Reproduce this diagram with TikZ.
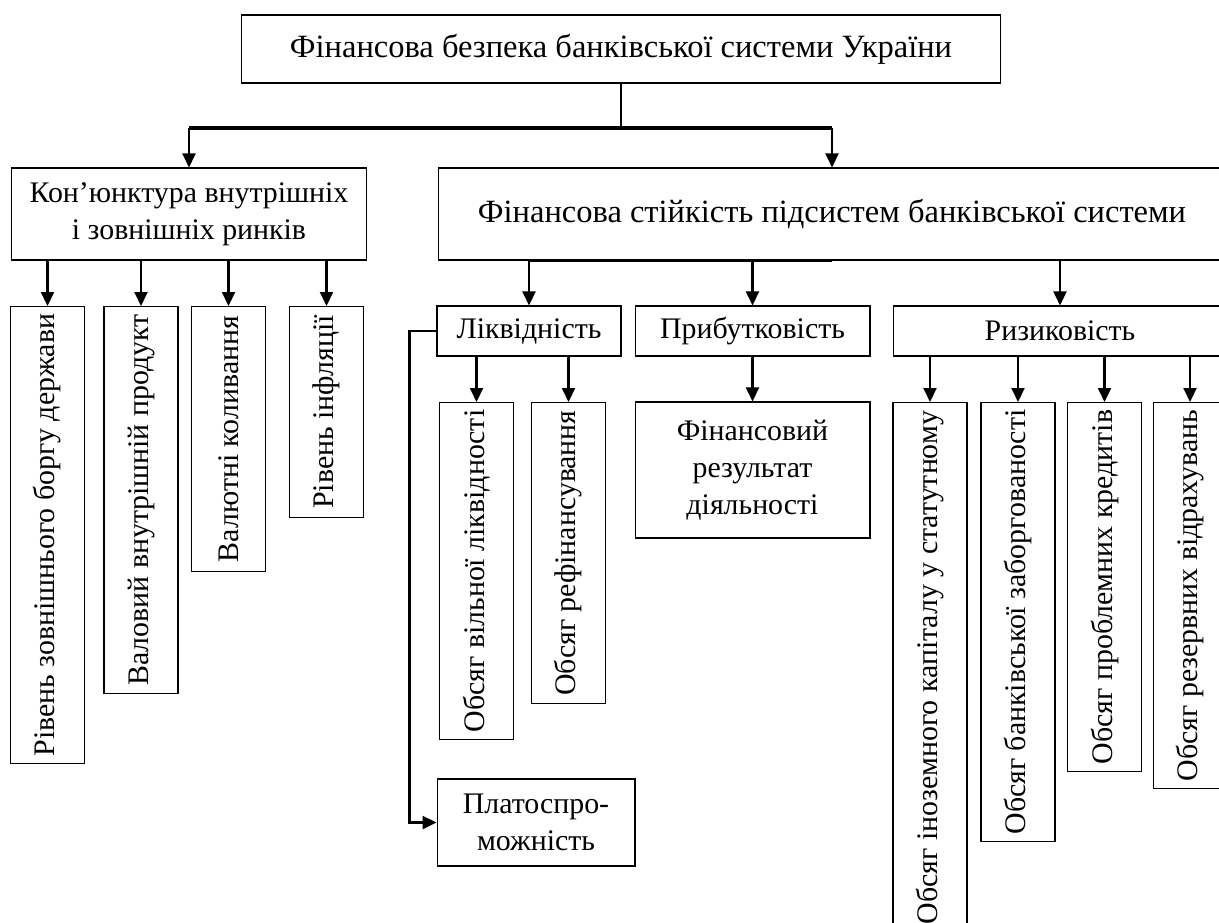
\documentclass[tikz,border=0pt]{standalone}
\usepackage{fontspec}
\setmainfont{Liberation Serif}
\usetikzlibrary{arrows.meta,calc}

\begin{document}
\begin{tikzpicture}[x=0.02cm,y=-0.02cm,>={Triangle[length=0.28cm,width=0.26cm]},
  font=\fontsize{17}{21}\selectfont,
  main node/.style={draw,line width=0.6pt,align=center,inner sep=2pt},
  big node/.style={main node,font=\fontsize{18.5}{22}\selectfont},
  vert node/.style={main node,rotate=90,anchor=east,minimum height=1.48cm,minimum width=#1},
  link/.style={->,line width=1.2pt},
  bar/.style={line width=1.8pt}]

\useasboundingbox (0,0) rectangle (1219,922);
\clip (0,0) rectangle (1219,922);

% top level
\node[big node,minimum width=15.2cm,minimum height=1.36cm](Top) at (621,49) {Фінансова безпека банківської системи України};
\node[main node,minimum width=7.12cm,minimum height=1.84cm](Kon) at (189,214) {Кон’юнктура внутрішніх\\і зовнішніх ринків};
\node[big node,minimum width=15.76cm,minimum height=1.84cm](Fin) at (832,214) {Фінансова стійкість підсистем банківської системи};

% market factors
\node[vert node=9.14cm](K1) at (47.5,306) {Рівень зовнішнього боргу держави};
\node[vert node=7.74cm](K2) at (141,306) {Валовий внутрішній продукт};
\node[vert node=5.3cm](K3) at (228.5,306) {Валютні коливання};
\node[vert node=4.22cm](K4) at (326.5,306) {Рівень інфляції};

% subsystems
\node[main node,minimum width=3.68cm,minimum height=1cm](Lik) at (529,331) {Ліквідність};
\node[main node,minimum width=4.7cm,minimum height=1cm](Prb) at (752.5,331) {Прибутковість};
\node[main node,minimum width=6.68cm,minimum height=1cm](Riz) at (1060,331) {Ризиковість};

\node[vert node=6.74cm](L1) at (476.5,402) {Обсяг вільної ліквідності};
\node[vert node=6.02cm](L2) at (568.5,402) {Обсяг рефінансування};
\node[main node,minimum width=3.96cm,minimum height=1.74cm](Pla) at (536,822.5) {Платоспро-\\можність};

\node[main node,minimum width=4.7cm,minimum height=2.72cm](Res) at (752.5,470) {Фінансовий\\результат\\діяльності};

\node[vert node=10.6cm](R1) at (930,402) {Обсяг іноземного капіталу у статутному};
\node[vert node=8.78cm](R2) at (1018,402) {Обсяг банківської заборгованості};
\node[vert node=7.38cm](R3) at (1104.5,402) {Обсяг проблемних кредитів};
\node[vert node=7.72cm](R4) at (1190,402) {Обсяг резервних відрахувань};

\coordinate (J) at (621,128);

\draw[line width=0.6pt] (Top) -- (J);
\draw[bar] (J -| Kon) -- (J -| Fin);
\draw[bar] (Fin.south -| Lik) -- (Fin.south);

\path[link]
(J -| Kon) edge (Kon)
(J -| Fin) edge (Fin)
(Kon.south -| K1) edge (K1)
(Kon.south -| K2) edge (K2)
(Kon.south -| K3) edge (K3)
(Kon.south -| K4) edge (K4)
(Fin.south -| Lik) edge (Lik)
(Fin.south -| Prb) edge (Prb)
(Fin.south -| Riz) edge (Riz)
(Lik.south -| L1) edge (L1)
(Lik.south -| L2) edge (L2)
(Prb) edge (Res)
(Riz.south -| R1) edge (R1)
(Riz.south -| R2) edge (R2)
(Riz.south -| R3) edge (R3)
(Riz.south -| R4) edge (R4);

\draw[->,line width=1.4pt] (Lik.west) -- ++(-27,0) |- (Pla.west);
\end{tikzpicture}
\end{document}
